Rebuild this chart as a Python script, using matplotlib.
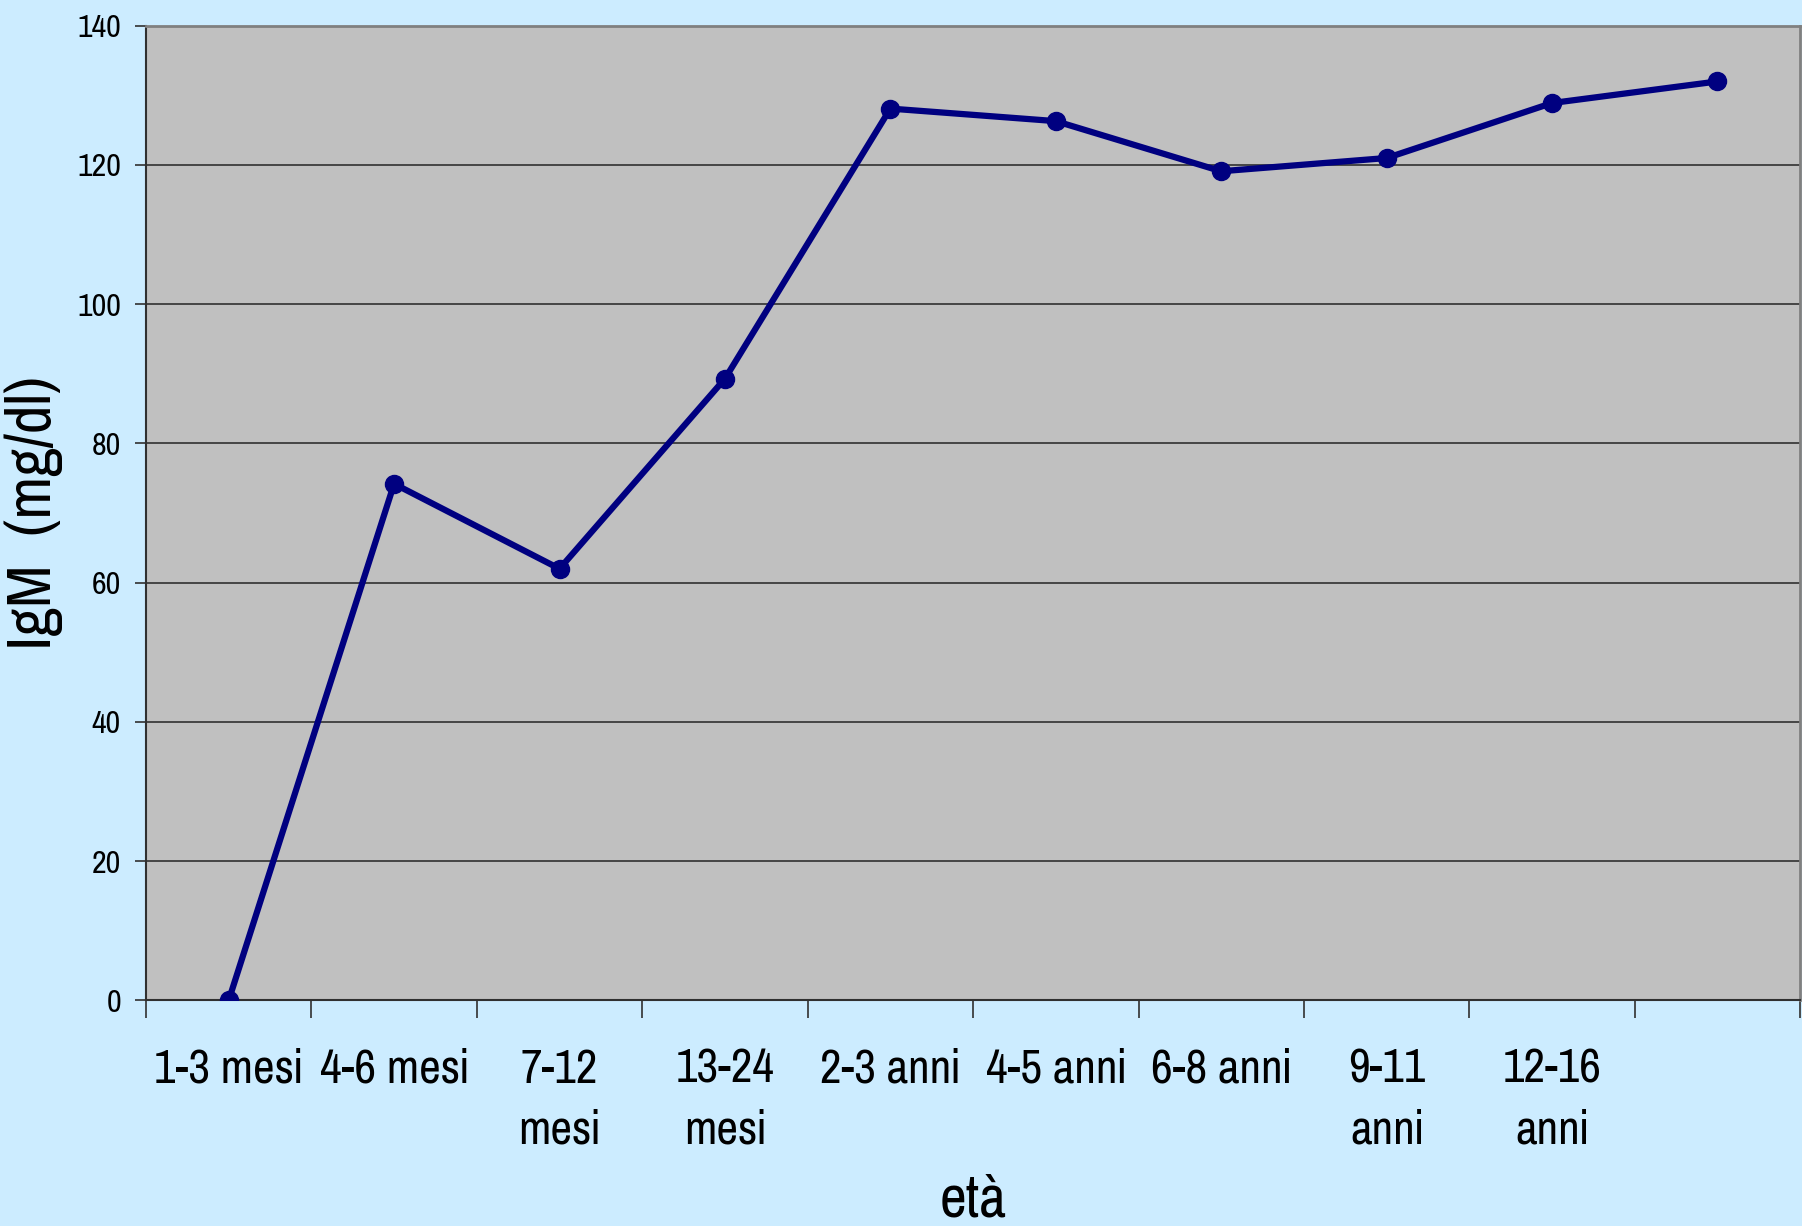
import numpy as np
import matplotlib
matplotlib.use('Agg')
import matplotlib.pyplot as plt

plt.rcParams['font.family'] = ['Pragati Narrow', 'Archivo Narrow', 'DejaVu Sans']

# age groups and mean IgM
eta = ['1-3 mesi', '4-6 mesi', '7-12\nmesi', '13-24\nmesi', '2-3 anni',
       '4-5 anni', '6-8 anni', '9-11\nanni', '12-16\nanni', '']
igm = [0, 74.2, 62.0, 89.3, 128.1, 126.3, 119.1, 121.0, 128.9, 132.0]
yticks = [0, 20, 40, 60, 80, 100, 120, 140]

bg = '#CCECFF'
fig = plt.figure(figsize=(18.02, 12.26), dpi=100, facecolor=bg)
ax = fig.add_axes([0.081, 0.184, 0.918, 0.795])
ax.set_facecolor('#C0C0C0')

x = np.arange(len(eta))
ax.plot(x, igm, color='#000080', lw=4.5, marker='o', ms=13, zorder=3)

ax.set_xlim(-0.5, len(eta) - 0.5)
ax.set_ylim(0, 140)
ax.set_yticks(yticks)
ax.yaxis.grid(True, color='#303030', lw=1.2)
ax.set_axisbelow(True)

ax.set_xticks(x)
ax.set_xticklabels(eta, fontsize=37, linespacing=1.5)
ax.set_xticks(np.arange(len(eta) + 1) - 0.5, minor=True)
ax.tick_params(axis='x', which='major', length=0, pad=34)
ax.tick_params(axis='x', which='minor', length=13, width=1.2, direction='out', color='#303030')
ax.tick_params(axis='y', length=8, width=1.2, direction='out', labelsize=25, pad=10, color='#303030')

for s in ['left', 'bottom']:
    ax.spines[s].set_color('#303030')
    ax.spines[s].set_linewidth(1.5)
for s in ['top', 'right']:
    ax.spines[s].set_color('#808080')
    ax.spines[s].set_linewidth(2)

ax.set_ylabel('IgM  (mg/dl)', fontsize=49, labelpad=10)
ax.set_xlabel('età', fontsize=46, labelpad=16)

fig.savefig('out.png', dpi=100, facecolor=bg)
